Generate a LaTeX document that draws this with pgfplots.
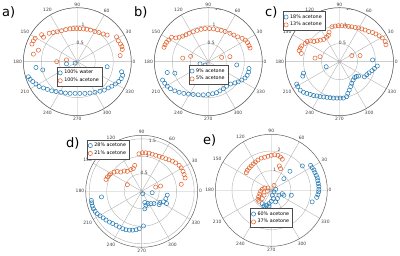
\documentclass[border=0pt]{standalone}
\usepackage{fontspec}
\setmainfont{DejaVu Sans}
\usepackage{pgfplots}
\pgfplotsset{compat=1.18}
\usepgfplotslibrary{polar}
\definecolor{cblue}{RGB}{31,119,180}
\definecolor{corange}{RGB}{228,95,40}
\tikzset{rl/.style={font=\fontsize{4.5}{5}\selectfont, text=black!75, inner sep=0pt}}
\pgfplotsset{
 mypolar/.style={
  scale only axis, anchor=center,
  xtick={0,30,...,330},
  yticklabels={},
  major tick length=0pt,
  grid=major,
  major grid style={gray!60, line width=0.4pt},
  separate axis lines,
  x axis line style={gray!75!black, line width=0.5pt},
  y axis line style={draw=none},
  xticklabel style={font=\fontsize{4.5}{5}\selectfont, text=black!75, inner sep=1.2pt},
  /pgf/number format/assume math mode=true,
  legend style={font=\fontsize{4.8}{5.5}\selectfont, draw=black!70, line width=0.4pt, inner sep=1.2pt, row sep=-1.2pt, cells={anchor=west}, fill=white},
  legend cell align=left,
 },
 bluem/.style={only marks, mark=o, mark size=2.1pt, cblue, line width=0.5pt, data cs=cart},
 orm/.style={only marks, mark=o, mark size=2.1pt, corange, line width=0.5pt, data cs=cart},
}
\begin{document}
\begin{tikzpicture}
\useasboundingbox (0pt,0pt) rectangle (400pt,256pt);
\node[anchor=west, font=\fontsize{13}{14}\selectfont, inner sep=0pt] at (2pt,244pt) {a)};
\node[anchor=west, font=\fontsize{13}{14}\selectfont, inner sep=0pt] at (134pt,244pt) {b)};
\node[anchor=west, font=\fontsize{13}{14}\selectfont, inner sep=0pt] at (265pt,244pt) {c)};
\node[anchor=west, font=\fontsize{13}{14}\selectfont, inner sep=0pt] at (66pt,113pt) {d)};
\node[anchor=west, font=\fontsize{13}{14}\selectfont, inner sep=0pt] at (203pt,116pt) {e)};
% a)
\begin{polaraxis}[mypolar, at={(77.3pt,194.3pt)}, width=108pt, height=108pt, ymin=0, ymax=1.5, ytick={0.5,1,1.5},
  legend style={at={(0.52,0.36)}, anchor=center}]
\addplot[bluem] coordinates {(-1.36,-0.42) (-1.31,-0.49) (-1.24,-0.55) (-1.15,-0.62) (-1.06,-0.69) (-0.94,-0.73) (-0.83,-0.77) (-0.71,-0.81) (-0.59,-0.83) (-0.46,-0.85) (-0.33,-0.87) (-0.20,-0.88) (-0.06,-0.88) (0.07,-0.88) (0.21,-0.88) (0.35,-0.87) (0.49,-0.85) (0.63,-0.82) (0.75,-0.79) (0.86,-0.73) (0.96,-0.68) (1.06,-0.62) (1.15,-0.55) (1.22,-0.47) (1.26,-0.38) (1.23,-0.28) (0.83,-0.14) (-1.15,-0.16) (-0.96,-0.23) (-0.30,-0.06) (-0.06,-0.04)};
\addplot[orm] coordinates {(-1.26,0.49) (-1.22,0.58) (-1.17,0.65) (-1.22,0.21) (-1.08,0.32) (-0.99,0.75) (-0.94,0.68) (-0.78,0.79) (-0.67,0.81) (-0.56,0.83) (-0.44,0.86) (-0.32,0.89) (-0.20,0.91) (-0.11,0.92) (-0.02,0.92) (0.07,0.92) (0.17,0.91) (0.26,0.90) (0.37,0.88) (0.49,0.84) (0.60,0.81) (0.72,0.77) (0.83,0.74) (1.09,0.69) (1.14,0.58) (1.20,0.49) (1.24,0.42) (1.25,0.34) (1.19,0.17) (-0.57,0.0) (-0.30,0.05)};
\legend{100\% water, 100\% acetone}
\node[rl] at (axis cs:81,0.52) {0.5};
\node[rl] at (axis cs:81,1.03) {1};
\end{polaraxis}
% b)
\begin{polaraxis}[mypolar, at={(208.3pt,194.3pt)}, width=108pt, height=108pt, ymin=0, ymax=1.5, ytick={0.5,1,1.5},
  legend style={at={(0.50,0.377)}, anchor=center}]
\addplot[bluem] coordinates {(-1.27,-0.51) (-1.21,-0.60) (-1.14,-0.68) (-1.05,-0.75) (-0.93,-0.81) (-0.81,-0.85) (-0.68,-0.88) (-0.55,-0.90) (-0.42,-0.91) (-0.28,-0.92) (-0.14,-0.92) (0.0,-0.91) (0.12,-0.89) (0.23,-0.86) (0.32,-0.81) (0.42,-0.75) (0.51,-0.68) (0.62,-0.62) (0.74,-0.59) (0.83,-0.56) (0.93,-0.51) (1.02,-0.45) (1.08,-0.38) (1.12,-0.29) (1.13,-0.19) (0.79,-0.09) (-0.23,-0.06) (-0.09,-0.09) (-1.14,-0.30) (-0.93,-0.32)};
\addplot[orm] coordinates {(-1.23,0.40) (-1.20,0.47) (-1.16,0.54) (-1.10,0.60) (-1.02,0.68) (-0.90,0.66) (-0.81,0.68) (-0.71,0.71) (-0.62,0.75) (-0.53,0.79) (-0.42,0.83) (-0.31,0.87) (-0.20,0.90) (-0.09,0.92) (0.03,0.92) (0.14,0.91) (0.25,0.89) (0.36,0.87) (0.47,0.84) (0.60,0.79) (0.71,0.74) (0.82,0.69) (0.94,0.65) (1.03,0.60) (1.09,0.53) (1.13,0.45) (1.16,0.38) (-0.71,0.10) (-0.49,0.15) (0.37,0.12) (0.60,0.14)};
\legend{9\% acetone, 5\% acetone}
\node[rl] at (axis cs:81,0.52) {0.5};
\node[rl] at (axis cs:81,1.03) {1};
\node[rl] at (axis cs:79,1.49) {1.5};
\end{polaraxis}
% c)
\begin{polaraxis}[mypolar, at={(339.5pt,194.3pt)}, width=108pt, height=108pt, ymin=0, ymax=1.5, ytick={0.5,1,1.5},
  legend style={at={(0.17,0.877)}, anchor=center}]
\addplot[bluem] coordinates {(-1.00,-0.32) (-1.02,-0.40) (-1.19,-0.62) (-1.16,-0.69) (-1.09,-0.79) (-1.00,-0.85) (-0.91,-0.88) (-0.81,-0.91) (-0.72,-0.94) (-0.63,-0.95) (-0.54,-0.97) (-0.44,-0.98) (-0.35,-0.99) (-0.26,-1.00) (-0.17,-1.01) (-0.07,-1.01) (0.02,-1.01) (0.11,-1.01) (0.20,-0.97) (0.23,-0.88) (0.27,-0.79) (0.31,-0.69) (0.34,-0.60) (0.38,-0.51) (0.42,-0.44) (0.47,-0.41) (0.53,-0.40) (0.69,-0.42) (0.76,-0.36) (0.82,-0.31) (0.90,-0.25) (0.97,-0.19) (1.05,-0.12) (0.92,0.05) (-0.37,-0.14)};
\addplot[orm] coordinates {(-1.12,0.31) (-1.09,0.38) (-1.06,0.23) (-1.05,0.44) (-0.95,0.51) (-0.90,0.56) (-0.81,0.58) (-0.71,0.56) (-0.62,0.58) (-0.53,0.60) (-0.44,0.62) (-0.36,0.68) (-0.31,0.73) (-0.29,0.82) (-0.21,0.97) (-0.12,0.99) (-0.03,1.00) (0.06,1.00) (0.16,0.99) (0.25,0.98) (0.34,0.97) (0.44,0.95) (0.53,0.94) (0.62,0.91) (0.71,0.88) (0.81,0.84) (0.92,0.81) (1.01,0.77) (1.10,0.72) (1.19,0.66) (1.27,0.56) (1.29,0.47) (-0.68,0.10) (-0.54,0.14) (0.34,0.17) (0.57,0.17)};
\legend{18\% acetone, 13\% acetone}
\node[rl] at (axis cs:81,0.52) {0.5};
\node[rl] at (axis cs:81,1.03) {1};
\node[rl] at (axis cs:79,1.49) {1.5};
\end{polaraxis}
% d)
\begin{polaraxis}[mypolar, at={(141.7pt,64.7pt)}, width=112pt, height=112pt, ymin=0, ymax=1.6, ytick={0.5,1,1.5},
  legend style={at={(0.20,0.873)}, anchor=center}]
\addplot[bluem] coordinates {(-1.44,-0.26) (-1.43,-0.33) (-1.41,-0.42) (-1.38,-0.50) (-1.33,-0.57) (-1.27,-0.64) (-1.19,-0.70) (-1.10,-0.76) (-1.02,-0.82) (-0.92,-0.88) (-0.83,-0.92) (-0.73,-0.97) (-0.64,-1.02) (-0.54,-1.07) (-0.45,-1.10) (-0.35,-1.11) (-0.26,-1.11) (-0.16,-1.10) (-0.07,-1.07) (0.05,-0.99) (-1.15,-0.16) (0.03,-0.07) (0.30,-0.04) (0.09,-0.32) (0.12,-0.40) (0.09,-0.50) (0.18,-0.35) (0.26,-0.35) (0.35,-0.35) (0.50,-0.38) (0.52,-0.32) (0.62,-0.30) (0.69,-0.21) (0.73,-0.11) (0.71,-0.35)};
\addplot[orm] coordinates {(-1.02,0.34) (-0.98,0.41) (-0.93,0.46) (-0.89,0.50) (-0.79,0.55) (-0.70,0.57) (-0.60,0.55) (-0.50,0.58) (-0.41,0.57) (-0.31,0.62) (-0.24,0.65) (-0.20,0.74) (-0.08,1.07) (0.02,1.10) (0.11,1.10) (0.21,1.09) (0.30,1.06) (0.40,1.03) (0.50,1.00) (0.59,0.97) (0.69,0.93) (0.78,0.90) (0.88,0.86) (0.97,0.81) (1.07,0.74) (1.13,0.67) (1.18,0.57) (1.21,0.48) (1.24,0.38) (1.13,0.20) (-0.41,0.19) (0.40,0.12) (0.54,0.15)};
\legend{28\% acetone, 21\% acetone}
\node[rl] at (axis cs:82,0.52) {0.5};
\node[rl] at (axis cs:81,1.02) {1};
\node[rl] at (axis cs:78,1.47) {1.5};
\end{polaraxis}
% e)
\begin{polaraxis}[mypolar, at={(271.3pt,65.7pt)}, width=112pt, height=112pt, ymin=0, ymax=2.85, ytick={1,2},
  legend style={at={(0.50,0.253)}, anchor=center}]
\addplot[bluem] coordinates {(1.58,1.24) (2.00,1.27) (2.08,1.15) (2.17,1.03) (2.22,0.90) (2.29,0.76) (2.34,0.63) (2.37,0.49) (2.39,0.34) (2.42,0.20) (2.42,0.05) (2.41,-0.08) (2.37,-0.22) (2.31,-0.36) (2.08,-0.59) (0.95,0.97) (0.64,0.59) (0.56,-0.17) (1.02,-0.25) (0.64,-0.25) (0.05,-0.25) (0.14,-0.08) (0.22,0.05) (0.10,-0.42) (0.0,-0.56) (-0.12,-0.68) (-0.24,-0.76) (-0.37,-0.80) (-0.46,-0.68) (-0.29,-0.90) (-0.12,-0.80) (0.22,-0.59) (0.31,-0.42) (0.39,-0.25)};
\addplot[orm] coordinates {(-1.27,0.90) (-1.22,1.02) (-1.12,1.14) (-1.02,1.24) (-0.92,1.34) (-0.81,1.44) (-0.68,1.54) (-0.51,1.64) (-0.34,1.68) (-0.17,1.73) (0.0,1.78) (0.17,1.81) (0.34,1.78) (0.47,1.69) (0.56,1.58) (0.41,1.24) (0.47,1.10) (0.14,0.25) (-0.17,0.12) (-0.34,0.12) (-0.46,0.05) (-0.54,-0.05) (-0.59,-0.19) (-0.64,-0.32) (-0.68,-0.46) (-0.63,-0.56) (-0.46,-0.42) (-0.37,-0.25) (-0.20,-0.05)};
\legend{60\% acetone, 37\% acetone}
\node[rl] at (axis cs:80,1.05) {1};
\node[rl] at (axis cs:79,2.1) {2};
\end{polaraxis}
\end{tikzpicture}
\end{document}
